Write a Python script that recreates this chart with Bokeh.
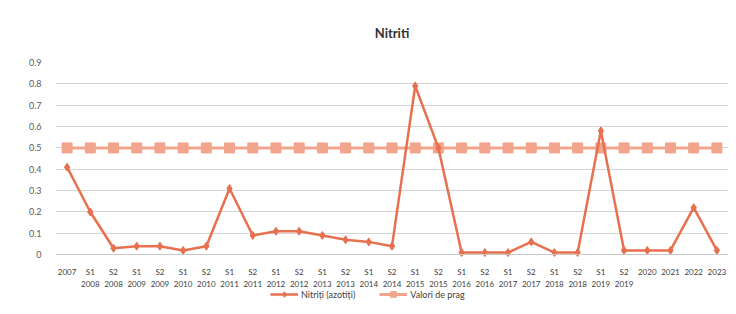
from bokeh.plotting import figure
from bokeh.models import Range1d, FixedTicker, Legend, LegendItem, LinearAxis
from bokeh.embed import file_html
from bokeh.resources import INLINE

categories = ["2007",
              "S1 2008", "S2 2008", "S1 2009", "S2 2009", "S1 2010", "S2 2010",
              "S1 2011", "S2 2011", "S1 2012", "S2 2012", "S1 2013", "S2 2013",
              "S1 2014", "S2 2014", "S1 2015", "S2 2015", "S1 2016", "S2 2016",
              "S1 2017", "S2 2017", "S1 2018", "S2 2018", "S1 2019", "S2 2019",
              "2020", "2021", "2022", "2023"]
nitriti = [0.41, 0.20, 0.03, 0.04, 0.04, 0.02, 0.04, 0.31, 0.09, 0.11, 0.11, 0.09, 0.07,
           0.06, 0.04, 0.79, 0.50, 0.01, 0.01, 0.01, 0.06, 0.01, 0.01, 0.58, 0.02,
           0.02, 0.02, 0.22, 0.02]
prag = [0.5] * len(categories)
y_ticks = [0, 0.1, 0.2, 0.3, 0.4, 0.5, 0.6, 0.7, 0.8, 0.9]

FONT = "Lato"
C1 = "#E8704F"
C2 = "#F2A48C"

n = len(categories)
xs = list(range(n))
top_labels = {i: c.split(" ")[0] for i, c in enumerate(categories)}
bottom_labels = {i: (c.split(" ")[1] if " " in c else "") for i, c in enumerate(categories)}

# the frame is extended below zero to hold the axis labels and the legend
p = figure(width=736, height=314, x_range=Range1d(-0.5, n - 0.5),
           y_range=Range1d(-0.28, 0.9), output_backend="svg", toolbar_location=None,
           min_border_left=55, min_border_right=8, min_border_top=61, min_border_bottom=0)
p.title.text = "Nitriti"
p.title.align = "center"
p.title.text_font = FONT
p.title.text_font_size = "13px"
p.title.text_font_style = "bold"
p.title.text_color = "#333333"
p.title.standoff = 44

p.outline_line_color = None
p.xgrid.grid_line_color = None
p.ygrid.grid_line_color = "#d4d4d4"
p.ygrid.grid_line_width = 1

p.yaxis.ticker = FixedTicker(ticks=y_ticks)
p.yaxis.major_label_overrides = {0: "0"}
p.yaxis.axis_line_color = None
p.yaxis.major_tick_line_color = None
p.yaxis.minor_tick_line_color = None
p.yaxis.major_label_text_font = FONT
p.yaxis.major_label_text_font_size = "9px"
p.yaxis.major_label_text_color = "#595959"
p.yaxis.major_label_standoff = 8

def style_x(ax):
    ax.ticker = FixedTicker(ticks=xs)
    ax.major_tick_line_color = None
    ax.minor_tick_line_color = None
    ax.major_label_text_font = FONT
    ax.major_label_text_font_size = "8px"
    ax.major_label_text_color = "#404040"
    ax.fixed_location = 0

p.xaxis.visible = False

ax1 = LinearAxis()
style_x(ax1)
ax1.axis_line_color = "#c8c8c8"
ax1.major_label_overrides = top_labels
ax1.major_label_standoff = 6
p.add_layout(ax1, "below")

ax2 = LinearAxis()
style_x(ax2)
ax2.axis_line_color = None
ax2.major_label_overrides = bottom_labels
ax2.major_label_standoff = 20
p.add_layout(ax2, "below")

l2 = p.line(xs, prag, line_color=C2, line_width=3)
s2 = p.scatter(xs, prag, marker="square", size=10, fill_color=C2, line_color=C2)
l1 = p.line(xs, nitriti, line_color=C1, line_width=2.5)
s1 = p.scatter(xs, nitriti, marker="diamond", size=8, fill_color=C1, line_color=C1)

legend = Legend(items=[LegendItem(label="Nitriți (azotiți)", renderers=[l1, s1]),
                       LegendItem(label="Valori de prag", renderers=[l2, s2])],
                orientation="horizontal", location=(215, 13),
                label_text_font=FONT, label_text_font_size="9px",
                label_text_color="#404040", border_line_color=None,
                background_fill_alpha=0, label_height=14, glyph_height=14,
                glyph_width=28, label_standoff=3, spacing=24, padding=2, margin=0)
p.add_layout(legend, "center")

open("out.html", "w").write(file_html(p, INLINE))
